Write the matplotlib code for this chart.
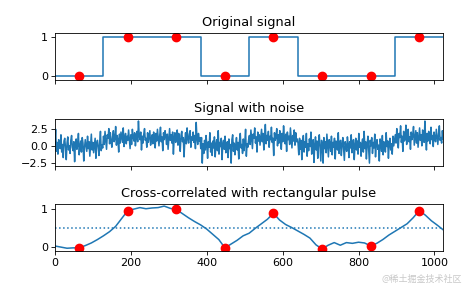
import numpy as np
import matplotlib
matplotlib.use("Agg")
import matplotlib.pyplot as plt

# level of the clean signal in each 128-sample block
block_levels = [0.0, 1.0, 1.0, 0.0, 1.0, 0.0, 0.0, 1.0]
block_len = 128
n_samples = 1024

# sampling clock (centre of each block)
clock = [64, 192, 320, 448, 576, 704, 832, 960]

# signal + noise (one value every 2 samples)
noisy = [
    # block 0
    0.3, 2.4, -0.8, 0.5, -1.2, 0.9, 0.1, -0.4, 1.6, -0.9, 0.2, -1.7, 0.7, 1.1, -0.3, -2.0,
    0.4, 1.3, -0.6, 0.0, -1.1, 0.8, 1.5, -0.2, -0.7, 0.6, -2.3, 0.3, 1.0, -0.5, 0.2, 1.8,
    -1.3, -0.1, 0.7, -0.9, 1.2, 0.4, -2.2, -0.3, 0.9, 0.1, -0.8, 1.4, -0.4, 0.6, -1.5, 0.2,
    1.7, -0.6, 0.5, -1.0, 0.0, 1.1, -1.8, 0.3, 0.8, -0.2, -1.4, 0.6, 2.1, -0.7, 0.1, -0.3,
    # block 1
    1.4, 0.2, 2.1, 0.8, -0.5, 1.6, 1.1, 2.5, 0.3, 1.9, 0.7, -0.2, 1.3, 2.2, 0.6, 1.0,
    2.8, 0.1, 1.5, 0.9, -0.9, 1.7, 0.4, 2.0, 1.2, 0.5, 2.6, -0.1, 1.1, 1.8, 0.3, 1.4,
    0.8, 2.3, 1.0, -0.4, 1.6, 0.2, 2.4, 1.3, 0.7, 1.9, 0.0, 1.2, 2.1, 0.6, 3.6, 1.5,
    0.9, 2.0, -0.6, 1.4, 0.4, 1.7, 2.5, 0.8, 1.1, -0.2, 1.9, 0.5, 1.3, 2.2, 0.1, 1.0,
    # block 2
    1.6, 0.3, 2.0, 1.1, -0.3, 1.8, 0.7, 2.4, 1.2, 0.0, 1.5, 2.7, 0.6, 1.3, -0.7, 1.9,
    0.9, 2.2, 1.4, 0.2, 1.7, -0.5, 1.0, 2.5, 0.8, 1.6, 0.4, 2.0, -1.2, 1.1, 1.9, 0.5,
    1.3, 2.3, 0.1, 1.8, 0.9, -0.8, 1.5, 2.1, 0.6, 1.2, -1.6, 0.7, 1.9, 0.3, 2.6, 1.0,
    0.4, 1.7, 2.2, -0.2, 1.3, 0.8, 2.0, 0.5, 1.5, -0.4, 3.4, 1.1, 0.2, 1.8, 0.7, 1.2,
    # block 3
    -0.4, 1.2, -2.5, 0.3, -1.1, 0.8, -0.6, 1.5, 0.1, -1.8, 0.6, -0.2, 1.9, -0.9, 0.4, -1.4,
    0.7, -0.3, 1.3, -1.6, 0.2, 0.9, -0.7, 2.2, -1.2, 0.5, -0.1, 1.1, -2.0, 0.3, 0.8, -0.5,
    1.4, -1.0, 0.0, 0.6, -1.7, 1.0, -0.4, 0.2, -2.5, 0.9, 1.6, -0.8, 0.4, -1.3, 0.1, 1.2,
    -0.6, 0.5, -1.9, 0.8, 1.8, -0.3, 0.2, -1.1, 1.0, -0.7, 0.6, 2.4, -1.5, 0.3, -0.2, 0.9,
    # block 4
    1.5, 0.2, 2.3, 0.9, -0.4, 1.7, 1.1, 2.6, 0.4, 1.3, -0.9, 2.0, 0.7, 1.6, 0.1, 1.2,
    2.4, 0.6, 1.8, -0.6, 1.0, 3.1, 0.3, 1.5, 0.8, 2.1, -0.2, 1.4, 0.9, 2.7, 0.5, 1.1,
    -1.4, 1.9, 0.8, 1.3, 2.5, 0.0, 1.6, 0.4, 2.2, 1.0, -0.5, 1.8, 0.6, 2.9, 1.2, 0.3,
    1.7, -0.8, 2.0, 0.9, 1.4, 0.2, 2.6, 1.1, -0.3, 1.5, 0.7, 2.3, 0.1, 1.9, 0.6, 1.0,
    # block 5
    0.4, -1.3, 1.1, -0.5, 0.8, -2.0, 0.2, 1.5, -0.9, 0.6, -0.2, 1.8, -1.5, 0.3, -0.7, 1.0,
    -0.1, 2.0, -1.2, 0.5, 0.9, -2.4, 0.1, 1.3, -0.6, 0.7, -1.8, 0.4, 1.6, -0.3, -2.2, 0.8,
    0.2, -2.5, 1.2, -0.4, 0.6, -1.0, 1.7, 0.0, -1.6, 0.9, 0.3, -0.8, 1.4, -1.3, 0.5, -0.2,
    1.1, -1.9, 0.7, 0.1, -0.6, 1.9, -1.1, 0.4, 0.8, -1.4, 0.2, 1.2, -0.5, -2.1, 0.6, 0.0,
    # block 6
    -0.8, 1.3, 0.2, -1.7, 0.6, -0.3, 1.6, -1.0, 0.4, 0.9, -2.0, 0.1, 1.1, -0.6, 0.7, -1.2,
    1.8, -0.2, 0.5, -1.5, 0.3, 1.0, -0.9, 2.1, -0.4, 0.6, -1.9, 0.2, 1.4, -0.7, -2.5, 0.8,
    0.0, 1.2, -1.1, 0.5, -0.3, 1.7, -1.6, 0.3, 0.9, -0.5, 0.1, -2.2, 1.0, 0.4, -0.8, 1.5,
    -1.3, 0.6, 0.2, -0.9, 1.9, -0.1, 0.7, -1.8, 0.4, 1.1, -0.6, 0.3, -1.2, 1.4, 0.0, 0.8,
    # block 7
    1.6, 0.4, 2.5, 0.9, -0.3, 1.8, 1.2, 2.9, 0.5, 1.4, -0.8, 2.1, 0.7, 1.0, 3.0, 0.2,
    1.7, 2.4, 0.6, 1.3, -0.5, 2.0, 0.9, 1.5, 2.8, 0.1, 1.1, 2.2, 0.4, 1.9, -0.2, 1.3,
    2.6, 0.8, 1.6, 0.0, 2.3, 1.2, 0.5, 3.6, 1.0, -0.6, 1.8, 0.7, 2.1, 1.4, 0.3, 2.7,
    0.9, 1.5, -0.1, 2.0, 1.1, 0.6, 2.4, 1.3, 0.2, 1.7, 2.9, 0.8, 1.2, 0.4, 2.2, 1.0,
]

# cross-correlation, one value every 16 samples
corr_lags = list(range(0, 1024, 16)) + [1023]
corr = [
    0.03, 0.00, -0.03, -0.02, -0.02, 0.04, 0.11, 0.20,
    0.30, 0.41, 0.55, 0.76, 0.97, 1.01, 1.05, 1.02,
    1.04, 1.05, 1.09, 1.03, 1.00, 0.89, 0.78, 0.68,
    0.59, 0.48, 0.34, 0.20, -0.02, 0.08, 0.18, 0.30,
    0.37, 0.50, 0.62, 0.74, 0.90, 0.72, 0.60, 0.52,
    0.43, 0.34, 0.24, 0.06, -0.05, 0.05, 0.12, 0.05,
    0.12, 0.10, 0.13, 0.11, 0.03, 0.10, 0.20, 0.32,
    0.42, 0.52, 0.62, 0.78, 0.97, 0.85, 0.70, 0.58,
    0.46,
]

blue = "#1f77b4"
fs_tick = 8
fs_title = 9.3
lw = 1.1
ms = 6

plt.rcParams["axes.linewidth"] = 0.6
plt.rcParams["xtick.major.width"] = 0.6
plt.rcParams["ytick.major.width"] = 0.6
plt.rcParams["xtick.major.size"] = 2.6
plt.rcParams["ytick.major.size"] = 2.6
plt.rcParams["xtick.major.pad"] = 2.5
plt.rcParams["ytick.major.pad"] = 2.5

fig, (ax_orig, ax_noise, ax_corr) = plt.subplots(3, 1, sharex=True, figsize=(4.65, 2.88), dpi=100)
fig.subplots_adjust(left=0.118, right=0.953, top=0.885, bottom=0.128, hspace=0.81)

# original signal (blocks)
starts = [i * block_len for i in range(len(block_levels))]
ax_orig.step(starts + [n_samples - 1], block_levels + [block_levels[-1]], where="post", color=blue, lw=lw)
clock_levels = [block_levels[c // block_len] for c in clock]
ax_orig.plot(clock, clock_levels, "o", color="red", ms=ms)
ax_orig.set_title("Original signal", fontsize=fs_title, pad=5)
ax_orig.set_ylim(-0.1, 1.1)
ax_orig.set_yticks([0, 1])

# noisy signal
noise_x = np.linspace(0, n_samples - 1, len(noisy))
ax_noise.plot(noise_x, noisy, color=blue, lw=lw)
ax_noise.set_title("Signal with noise", fontsize=fs_title, pad=5)
ax_noise.set_ylim(-2.88, 3.96)
ax_noise.set_yticks([-2.5, 0.0, 2.5])

# correlation
ax_corr.plot(corr_lags, corr, color=blue, lw=lw)
clock_corr = [corr[corr_lags.index(c)] for c in clock]
ax_corr.plot(clock, clock_corr, "o", color="red", ms=ms)
ax_corr.axhline(0.5, ls=":", color=blue, lw=lw)
ax_corr.set_title("Cross-correlated with rectangular pulse", fontsize=fs_title, pad=5)
ax_corr.set_ylim(-0.107, 1.147)
ax_corr.set_yticks([0, 1])

ax_corr.set_xlim(0, n_samples - 1)
ax_corr.set_xticks([0, 200, 400, 600, 800, 1000])
for ax in (ax_orig, ax_noise, ax_corr):
    ax.tick_params(labelsize=fs_tick)

# watermark
fig.text(0.993, 0.03, "@稀土掘金技术社区", ha="right", va="center", fontsize=6.5,
         color="#c8c8c8", family=["Noto Sans CJK SC", "DejaVu Sans"])

fig.savefig("out.png", dpi=100)
